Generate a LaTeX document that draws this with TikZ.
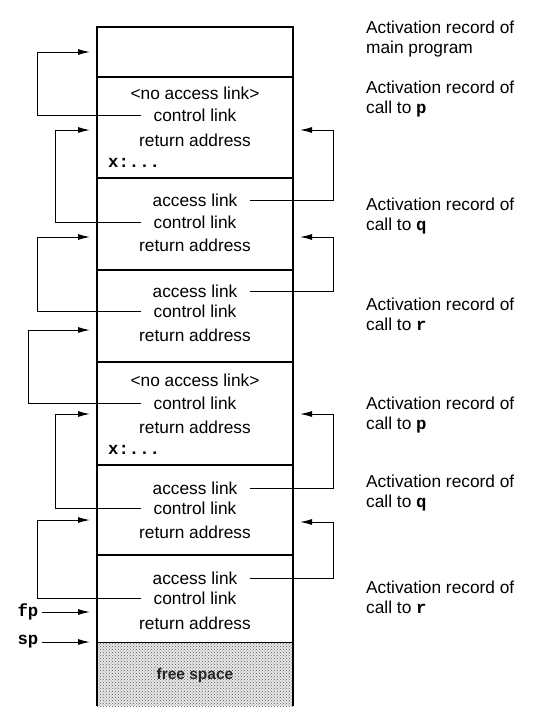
\documentclass[tikz,border=0pt]{standalone}
\usepackage{fontspec}
\setmainfont{Liberation Sans}
\setmonofont{Liberation Mono}
\usetikzlibrary{arrows.meta, patterns, positioning}

\newcommand{\code}[1]{\texttt{\bfseries #1}}

\begin{document}
\begin{tikzpicture}[
		x=1pt, y=-1pt,
		every node/.style={
				font=\fontsize{17.3}{20}\selectfont,
				inner sep=0pt
			},
		record/.style={draw, line width=1.1pt, minimum width=196pt},
		field/.style={inner xsep=12pt},
		link/.style={line width=1pt, -{Latex[length=12pt, width=6pt]}},
		caption/.style={anchor=west, align=left}
	]
	\useasboundingbox (0,0) rectangle (545,726);

	% the stack, one record after the other
	\node[record, minimum height=50pt] (mainrec) at (195,52) {};
	\node[record, minimum height=101pt] (p1rec) at (195,127.5) {};
	\node[record, minimum height=92pt] (q1rec) at (195,224) {};
	\node[record, minimum height=92pt] (r1rec) at (195,316) {};
	\node[record, minimum height=103pt] (p2rec) at (195,413.5) {};
	\node[record, minimum height=90pt] (q2rec) at (195,510) {};
	\node[record, minimum height=88pt] (r2rec) at (195,599) {};

	% free space below the top of the stack
	\fill[gray!18] (97,643) rectangle (293,706);
	\fill[pattern=crosshatch dots, pattern color=gray!70!black] (97,643) rectangle (293,706);
	\draw[line width=1.1pt] (97,643) -- (97,706) (293,643) -- (293,706);
	\node[font=\fontsize{15.5}{18}\selectfont\bfseries, text=black!85] (free) at (195,675) {free space};

	% fields
	\node[field] (p1acc) at (195,93) {<no access link>};
	\node[field] (p1ctl) at (195,115) {control link};
	\node[field] (p1ret) at (195,140) {return address};
	\node[anchor=west] (p1x) at (108,163) {\code{x:...}};

	\node[field] (q1acc) at (195,200) {access link};
	\node[field] (q1ctl) at (195,222) {control link};
	\node[field] (q1ret) at (195,245) {return address};

	\node[field] (r1acc) at (195,291) {access link};
	\node[field] (r1ctl) at (195,311) {control link};
	\node[field] (r1ret) at (195,335) {return address};

	\node[field] (p2acc) at (195,380) {<no access link>};
	\node[field] (p2ctl) at (195,403) {control link};
	\node[field] (p2ret) at (195,427) {return address};
	\node[anchor=west] (p2x) at (108,450) {\code{x:...}};

	\node[field] (q2acc) at (195,488) {access link};
	\node[field] (q2ctl) at (195,508) {control link};
	\node[field] (q2ret) at (195,532) {return address};

	\node[field] (r2acc) at (195,578) {access link};
	\node[field] (r2ctl) at (195,598) {control link};
	\node[field] (r2ret) at (195,623) {return address};

	% where the links point to
	\coordinate (mainin) at (90,52);
	\coordinate (p1in) at (90,130);
	\coordinate (q1in) at (90,237);
	\coordinate (r1in) at (90,330);
	\coordinate (p2in) at (90,414);
	\coordinate (q2in) at (90,520);
	\coordinate (p1acin) at (300,130);
	\coordinate (q1acin) at (300,237);
	\coordinate (p2acin) at (300,414);
	\coordinate (q2acin) at (300,522);

	% control links
	\draw[link] (p1ctl.west) -| (37,52) -- (mainin);
	\draw[link] (q1ctl.west) -| (55,130) -- (p1in);
	\draw[link] (r1ctl.west) -| (37,237) -- (q1in);
	\draw[link] (p2ctl.west) -| (28,330) -- (r1in);
	\draw[link] (q2ctl.west) -| (55,414) -- (p2in);
	\draw[link] (r2ctl.west) -| (37,520) -- (q2in);

	% access links
	\draw[link] (q1acc.east) -| (333,130) -- (p1acin);
	\draw[link] (r1acc.east) -| (333,237) -- (q1acin);
	\draw[link] (q2acc.east) -| (333,414) -- (p2acin);
	\draw[link] (r2acc.east) -| (333,522) -- (q2acin);

	% frame and stack pointers
	\node[inner xsep=3pt] (fp) at (28,612) {\code{fp}};
	\node[inner xsep=3pt] (sp) at (28,642) {\code{sp}};
	\coordinate (fpin) at (90,612);
	\coordinate (spin) at (90,642);
	\draw[link] (fp.east) -- (fpin);
	\draw[link] (sp.east) -- (spin);

	% captions
	\node[caption] (mainlab) at (366,39) {Activation record of\\main program};
	\node[caption] (p1lab) at (366,99) {Activation record of\\call to \code{p}};
	\node[caption] (q1lab) at (366,216) {Activation record of\\call to \code{q}};
	\node[caption] (r1lab) at (366,314) {Activation record of\\call to \code{r}};
	\node[caption] (p2lab) at (366,415) {Activation record of\\call to \code{p}};
	\node[caption] (q2lab) at (366,493) {Activation record of\\call to \code{q}};
	\node[caption] (r2lab) at (366,597) {Activation record of\\call to \code{r}};
\end{tikzpicture}
\end{document}
